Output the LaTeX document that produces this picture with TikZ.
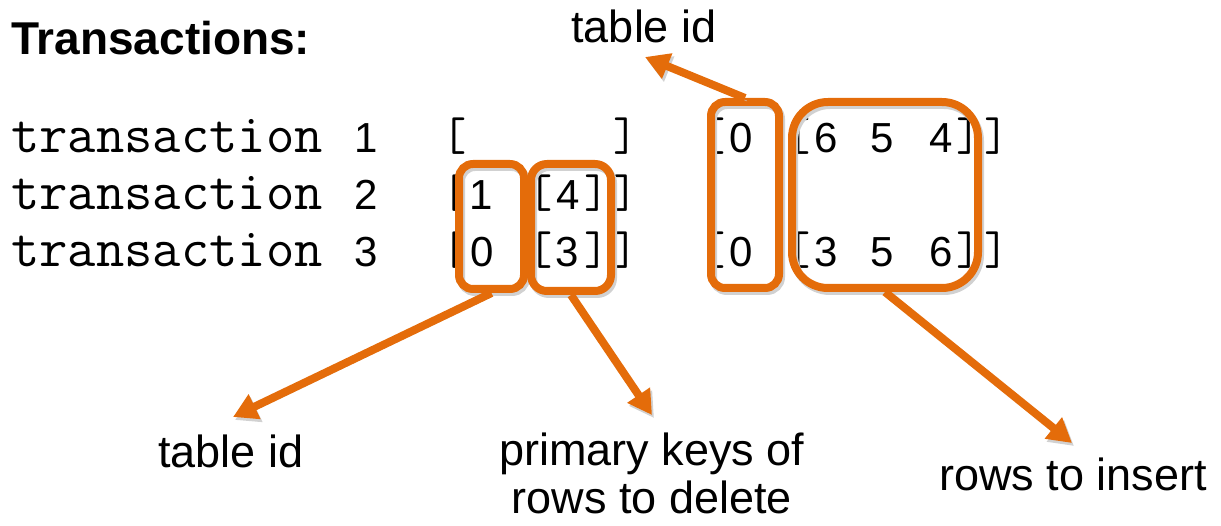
\documentclass[tikz,border=0pt]{standalone}
\usepackage{fontspec}
\setsansfont{Liberation Sans}
\usetikzlibrary{arrows.meta,calc}
\definecolor{org}{RGB}{228,108,10}
\begin{document}
\begin{tikzpicture}[x=1pt,y=-1pt,
 lbl/.style={inner sep=0pt, font=\fontsize{45}{48}\selectfont\sffamily, anchor=base, align=center},
 ttl/.style={inner sep=0pt, font=\fontsize{46}{48}\selectfont\sffamily\bfseries, anchor=base west},
 mono/.style={inner sep=0pt, font=\fontsize{55}{58}\selectfont\ttfamily, anchor=base west},
 dig/.style={inner sep=0pt, font=\fontsize{42}{44}\selectfont\sffamily, anchor=base},
 brk/.style={inner sep=0pt, font=\fontsize{47}{50}\selectfont\ttfamily, anchor=base},
 hbox/.style={draw=org, line width=8pt, rounded corners=#1, inner sep=0pt},
 arr/.style={draw=org, line width=8pt, -{Triangle[length=24pt,width=26pt]}},
 shad/.style={preaction={draw=black!18, transform canvas={shift={(2,3)}}}}
]
\useasboundingbox (0,0) rectangle (1221,526);

% title and labels
\node[ttl] (title) at (11,55) {Transactions:};
\node[lbl] (tidtop) at (644,43) {table id};
\node[lbl] (tidbot) at (231,467) {table id};
\node[lbl] (pkeys) at (652,513) {primary keys of\\rows to delete};
\node[lbl] (rins) at (1073,490) {rows to insert};

% transaction lines
\node[mono] (tr1) at (11,153) {transaction};
\node[mono] (tr2) at (11,210) {transaction};
\node[mono] (tr3) at (11,267) {transaction};
\node[dig] (n1) at (366,153) {1};
\node[dig] (n2) at (366,210) {2};
\node[dig] (n3) at (366,267) {3};

% row 1
\node[brk] (r1a) at (455,151) {[};
\node[brk] (r1b) at (626,151) {]};
\node[brk] (r1c) at (714,151) {[};
\node[dig] (r1d) at (741,153) {0};
\node[brk] (r1e) at (799,151) {[};
\node[dig] (r1f) at (826,153) {6};
\node[dig] (r1g) at (882,153) {5};
\node[dig] (r1h) at (941,153) {4};
\node[brk] (r1i) at (969,151) {]};
\node[brk] (r1j) at (997,151) {]};

% row 2
\node[brk] (r2a) at (455,208) {[};
\node[dig] (r2b) at (481,210) {1};
\node[brk] (r2c) at (541,208) {[};
\node[dig] (r2d) at (568,210) {4};
\node[brk] (r2e) at (597,208) {]};
\node[brk] (r2f) at (626,208) {]};

% row 3
\node[brk] (r3a) at (455,265) {[};
\node[dig] (r3b) at (482,267) {0};
\node[brk] (r3c) at (541,265) {[};
\node[dig] (r3d) at (567,267) {3};
\node[brk] (r3e) at (597,265) {]};
\node[brk] (r3f) at (626,265) {]};
\node[brk] (r3g) at (714,265) {[};
\node[dig] (r3h) at (741,267) {0};
\node[brk] (r3i) at (799,265) {[};
\node[dig] (r3j) at (826,267) {3};
\node[dig] (r3k) at (882,267) {5};
\node[dig] (r3l) at (941,267) {6};
\node[brk] (r3m) at (969,265) {]};
\node[brk] (r3n) at (997,265) {]};

% arrow tip points
\coordinate (tipA) at (233,417);
\coordinate (tipB) at (652,415);
\coordinate (tipC) at (645,57);
\coordinate (tipD) at (1072,443);

% highlight boxes
\node[hbox=14, shad, minimum width=65pt, minimum height=125pt] (boxA) at (491.5,226.5) {};
\node[hbox=16, shad, minimum width=80pt, minimum height=127pt] (boxB) at (571,227.5) {};
\node[hbox=14, shad, minimum width=68pt, minimum height=186pt] (boxC) at (745,195) {};
\node[hbox=36, shad, minimum width=186pt, minimum height=186pt] (boxD) at (885,195) {};

% arrows
\draw[arr, shad] (boxA.south) -- (tipA);
\draw[arr, shad] (boxB.south) -- (tipB);
\draw[arr, shad] (boxC.north) -- (tipC);
\draw[arr, shad] (boxD.south) -- (tipD);
\end{tikzpicture}
\end{document}
